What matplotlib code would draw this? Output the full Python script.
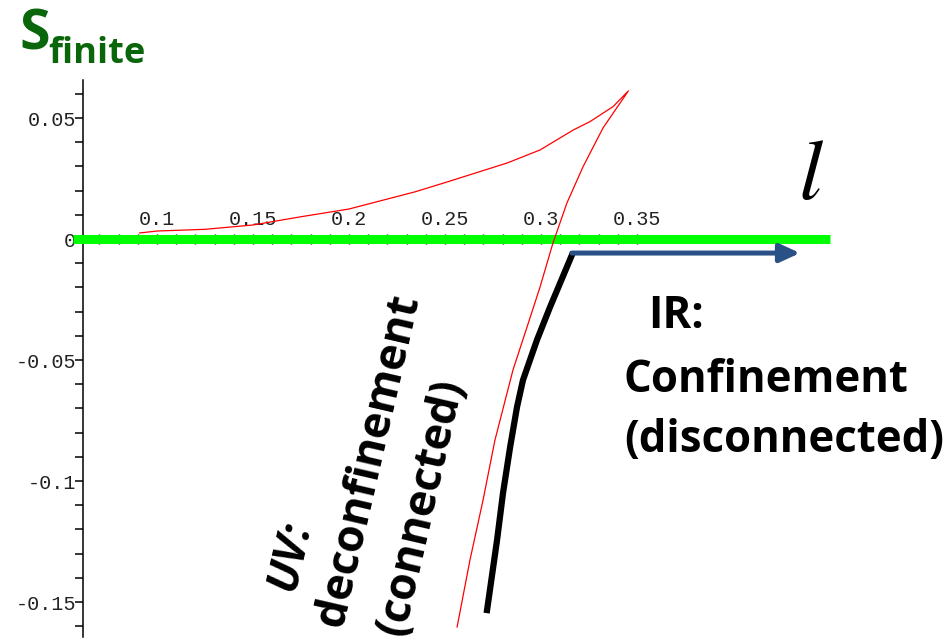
import numpy as np
import matplotlib.pyplot as plt
from matplotlib.ticker import FixedLocator, FixedFormatter

# S_finite(l) : branche haute et branche basse (courbe en queue d'aronde)
l_haut = [0.091, 0.1, 0.125, 0.15, 0.175, 0.2, 0.2344, 0.2516, 0.2823, 0.2995, 0.3167, 0.3255, 0.3375, 0.3455]
s_haut = [0.0025, 0.0033, 0.004, 0.0058, 0.0092, 0.0124, 0.0195, 0.0237, 0.0314, 0.0368, 0.045, 0.0485, 0.0547, 0.0612]
l_bas = [0.3455, 0.3323, 0.3219, 0.3135, 0.3062, 0.2995, 0.2927, 0.2854, 0.2760, 0.2698, 0.2630, 0.2563]
s_bas = [0.0612, 0.0459, 0.0299, 0.0149, -0.0017, -0.0198, -0.0364, -0.0541, -0.0831, -0.1079, -0.1326, -0.1603]

# branche physique (trait noir) puis saut vers la solution deconnectee
l_phys = [0.3161, 0.3047, 0.2979, 0.2906, 0.2875, 0.2839, 0.2802, 0.2771, 0.2719]
s_phys = [-0.0066, -0.0281, -0.0417, -0.0583, -0.0694, -0.0860, -0.1050, -0.1244, -0.1533]
l_fleche = [0.3161, 0.4349]
s_fleche = -0.0058

l_zero = [0.0563, 0.4505]

yt_maj = [-0.15, -0.1, -0.05, 0, 0.05]
yt_lab = ['-0.15', '-0.1', '-0.05', '0', '0.05']
yt_min = np.round(np.arange(-0.16, 0.065, 0.01), 2)
xt = np.round(np.arange(0.07, 0.355, 0.01), 2)
xt_lab = {0.1: '0.1', 0.15: '0.15', 0.2: '0.2', 0.25: '0.25', 0.3: '0.3', 0.35: '0.35'}

vert = '#0a660a'
bleu = '#2a5185'
police = 'Open Sans'

fig = plt.figure(figsize=(9.5, 6.41), dpi=100)
ax = fig.add_axes([0, 0, 1, 1])
ax.set_xlim(0.01823, 0.5130)
ax.set_ylim(-0.1661, 0.09876)
ax.patch.set_alpha(0)

# axes facon Maple : axe vertical en l=0.0615, axe horizontal en S=0
x_axe = 0.0615
for c in ['right', 'bottom']:
    ax.spines[c].set_visible(False)
ax.spines['left'].set_position(('data', x_axe))
ax.spines['left'].set_bounds(-0.1645, 0.0657)
ax.spines['top'].set_position(('data', 0))
ax.spines['top'].set_bounds(x_axe, 0.355)
for c in ['left', 'top']:
    ax.spines[c].set_linewidth(1.1)

ax.yaxis.set_major_locator(FixedLocator(yt_maj))
ax.yaxis.set_major_formatter(FixedFormatter(yt_lab))
ax.yaxis.set_minor_locator(FixedLocator(yt_min))
ax.tick_params(axis='y', which='both', direction='out', length=6, width=1.1, pad=-1,
               labelsize=14.5, labelcolor='#222222')

ax.xaxis.set_ticks_position('top')
ax.xaxis.set_major_locator(FixedLocator(xt))
ax.xaxis.set_major_formatter(FixedFormatter([xt_lab.get(v, '') for v in xt]))
ax.tick_params(axis='x', which='both', direction='inout', length=7, width=1.0, pad=4,
               labelsize=14.5, labelcolor='#222222')
for lab in ax.get_xticklabels() + ax.get_yticklabels():
    lab.set_family('Liberation Mono')

ax.plot(l_zero, [0, 0], color='#00ff00', lw=6.5, solid_capstyle='butt', zorder=3)
ax.plot(l_haut + l_bas[1:], s_haut + s_bas[1:], color='red', lw=0.9, zorder=4)
ax.plot(l_phys, s_phys, color='black', lw=4.5, zorder=5)
ax.annotate('', xy=(l_fleche[1], s_fleche), xytext=(l_fleche[0], s_fleche),
            arrowprops=dict(arrowstyle='-|>,head_length=1.2,head_width=0.55',
                            color=bleu, lw=3.6, shrinkA=0, shrinkB=0), zorder=6)

def px(x, y):
    return x / 950, 1 - y / 641

fig.text(*px(19, 50), 'S', color=vert, fontsize=40, fontweight='bold', family=police)
fig.text(*px(48, 63), 'finite', color=vert, fontsize=26, fontweight='bold', family=police)
fig.text(*px(798, 199), r'$l$', fontsize=62, math_fontfamily='stix')

fig.text(*px(648, 328), 'IR:', fontsize=31.5, fontweight='bold', family=police)
fig.text(*px(624, 392), 'Confinement', fontsize=31.5, fontweight='bold', family=police)
fig.text(*px(624, 452), '(disconnected)', fontsize=31.5, fontweight='bold', family=police)

ang = 77
for (x, y), txt, st in [((294, 592), 'UV:', 'italic'),
                        ((342, 628), 'deconfinement', 'normal'),
                        ((403, 637), '(connected)', 'normal')]:
    fig.text(*px(x, y), txt, fontsize=32, fontweight='bold', style=st, family=police,
             rotation=ang, rotation_mode='anchor', ha='left', va='baseline')

fig.savefig('out.png', dpi=100)
